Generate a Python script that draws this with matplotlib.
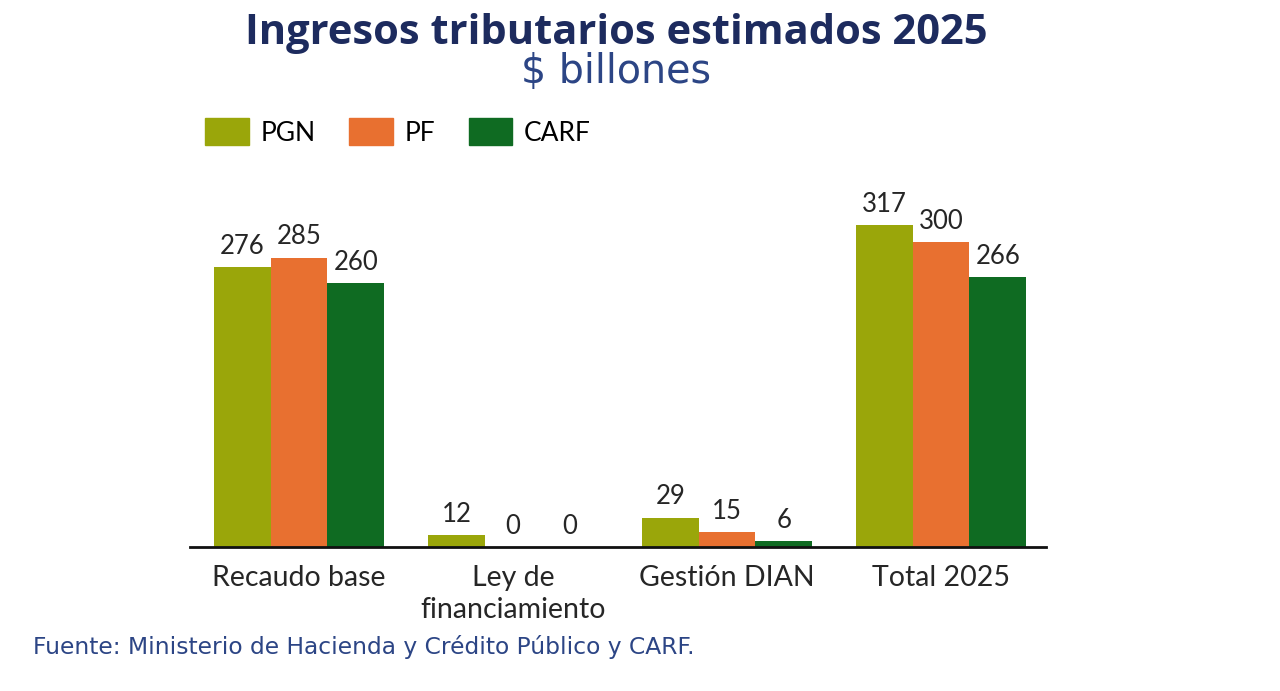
import matplotlib
matplotlib.use("Agg")
import matplotlib.pyplot as plt
import numpy as np
from matplotlib.patches import Patch

categories = ["Recaudo base", "Ley de\nfinanciamiento", "Gestión DIAN", "Total 2025"]
series_names = ["PGN", "PF", "CARF"]
pgn = [276, 12, 29, 317]
pf = [285, 0, 15, 300]
carf = [260, 0, 6, 266]
colors = ["#9aa60a", "#e87030", "#0f6b22"]

title = "Ingresos tributarios estimados 2025"
subtitle = "$ billones"
source = "Fuente: Ministerio de Hacienda y Crédito Público y CARF."

fig = plt.figure(figsize=(12.8, 6.91), dpi=100)
ax = fig.add_axes([190/1280, (691-547)/691, 856/1280, 387/691])

x = np.arange(len(categories))
w = 0.265
for i, (vals, c) in enumerate(zip([pgn, pf, carf], colors)):
    pos = x + (i - 1) * w
    ax.bar(pos, vals, width=w, color=c, label=series_names[i])
    for xp, v in zip(pos, vals):
        ax.text(xp, v + 8, f"{v}", ha="center", va="bottom", fontsize=18.5,
                family="Lato", color="#262626")

ax.set_xlim(-0.51, 3.49)
ax.set_ylim(0, 381)
for s in ["top", "right", "left"]:
    ax.spines[s].set_visible(False)
ax.spines["bottom"].set_linewidth(2)
ax.spines["bottom"].set_color("#111111")
ax.set_yticks([])
ax.set_xticks(x)
ax.set_xticklabels(categories, fontsize=20.5, family="Lato", color="#262626",
                   linespacing=1.3)
ax.tick_params(axis="x", length=0, pad=13)

fig.text(616/1280, 1 - 33/691, title, ha="center", va="center", fontsize=30,
         fontweight="bold", family="Open Sans", color="#1d2b5e")
fig.text(616/1280, 1 - 72/691, subtitle, ha="center", va="center", fontsize=28.5,
         family="DejaVu Sans", color="#2c4585")

handles = [Patch(color=c) for c in colors]
fig.legend(handles, series_names, loc="center left",
           bbox_to_anchor=(205/1280, 1 - 132/691), ncol=3, frameon=False,
           borderpad=0, borderaxespad=0,
           prop={"family": "Lato", "size": 19},
           handlelength=1.65, handleheight=1.15, columnspacing=1.27, handletextpad=0.45)

fig.text(33/1280, 1 - 647/691, source, ha="left", va="center", fontsize=16.8,
         family="DejaVu Sans", color="#2c4585")

fig.savefig("out.png", dpi=100)
